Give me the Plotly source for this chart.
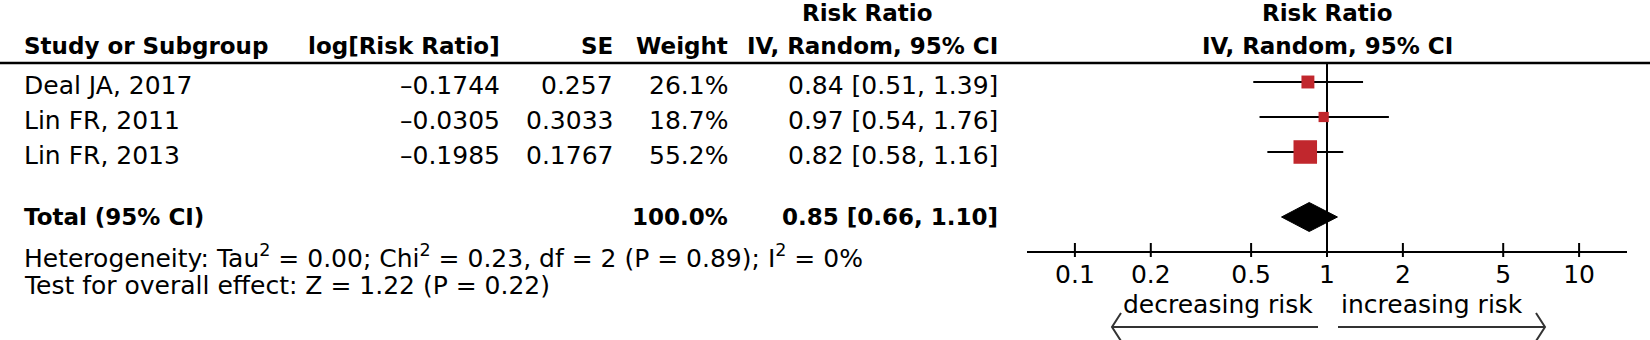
import math
import plotly.graph_objects as go

# ---------------- data ----------------
studies = ["Deal JA, 2017", "Lin FR, 2011", "Lin FR, 2013"]
log_rr = [-0.1744, -0.0305, -0.1985]
se = ["0.257", "0.3033", "0.1767"]
weights = [26.1, 18.7, 55.2]
rr = [0.84, 0.97, 0.82]
ci_low = [0.51, 0.54, 0.58]
ci_high = [1.39, 1.76, 1.16]

total_label = "Total (95% CI)"
total_weight = 100.0
total_rr = 0.85
total_low = 0.66
total_high = 1.10

heterogeneity = ("Heterogeneity: Tau<sup>2</sup> = 0.00; Chi<sup>2</sup> = 0.23, "
                 "df = 2 (P = 0.89); I<sup>2</sup> = 0%")
overall_effect = "Test for overall effect: Z = 1.22 (P = 0.22)"

tick_vals = [0.1, 0.2, 0.5, 1, 2, 5, 10]
tick_text = ["0.1", "0.2", "0.5", "1", "2", "5", "10"]
favours_left = "decreasing risk"
favours_right = "increasing risk"

col_headers = ["Study or Subgroup", "log[Risk Ratio]", "SE", "Weight", "IV, Random, 95% CI"]
effect_title = "Risk Ratio"

# ---------------- layout constants (pixels) ----------------
W, H = 1650, 340
FONT = "DejaVu Sans"
REG = 25
BOLD = 23
X0, X1 = 1027, 1627          # forest axis extent
LOGMIN, LOGMAX = -1.19, 1.19
AXIS_Y = 252
HLINE_Y = 63
mark_y = [82, 117, 152]
text_y = [85.5, 120.5, 155.5]
total_y = 217
RED = "#C1272D"

COL_STUDY = 22
COL_LOG = 502
COL_SE = 615
COL_W = 730
COL_CI = 1000
COL_RR_HEAD = 868


def px(x):
    return x / W


def fmt_neg(v):
    return f"{v:.4f}".replace("-", "\u2013")


fig = go.Figure()

# null line
fig.add_trace(go.Scatter(x=[1, 1], y=[HLINE_Y, AXIS_Y], mode="lines",
                         line=dict(color="black", width=2), hoverinfo="skip"))

# CI lines
xs, ys = [], []
for lo, hi, y in zip(ci_low, ci_high, mark_y):
    xs += [lo, hi, None]
    ys += [y, y, None]
fig.add_trace(go.Scatter(x=xs, y=ys, mode="lines",
                         line=dict(color="black", width=2), hoverinfo="skip"))

# squares (side grows with weight)
fig.add_trace(go.Scatter(x=rr, y=mark_y, mode="markers",
                         marker=dict(symbol="square", color=RED, opacity=1,
                                     size=[3.4 + 0.365 * w for w in weights],
                                     line=dict(width=0)),
                         hoverinfo="skip"))

# diamond
fig.add_trace(go.Scatter(x=[total_low, total_rr, total_high, total_rr, total_low],
                         y=[total_y, total_y - 14.5, total_y, total_y + 14.5, total_y],
                         mode="lines", fill="toself", fillcolor="black",
                         line=dict(color="black", width=1), hoverinfo="skip"))

# crossing tick marks
tx, ty = [], []
for t in tick_vals:
    tx += [t, t, None]
    ty += [AXIS_Y - 9, AXIS_Y + 5, None]
fig.add_trace(go.Scatter(x=tx, y=ty, mode="lines",
                         line=dict(color="black", width=2), hoverinfo="skip"))

ann = []


def add_text(x, y, text, anchor="left", bold=False, xref="paper", xshift=0):
    ann.append(dict(x=x, y=y, xref=xref, yref="y", text=f"<b>{text}</b>" if bold else text,
                    showarrow=False, xanchor=anchor, yanchor="middle", xshift=xshift,
                    font=dict(family=FONT, size=BOLD if bold else REG, color="black")))


# headers
add_text(px(COL_RR_HEAD), 12.5, effect_title, "center", True)
add_text(px(COL_STUDY), 46, col_headers[0], "left", True)
add_text(px(COL_LOG), 46, col_headers[1], "right", True)
add_text(px(COL_SE), 46, col_headers[2], "right", True)
add_text(px(COL_W), 46, col_headers[3], "right", True)
add_text(px(COL_CI), 46, col_headers[4], "right", True)
add_text(0, 12.5, effect_title, "center", True, xref="x")
add_text(0, 46, col_headers[4], "center", True, xref="x")

# study rows
for i, y in enumerate(text_y):
    add_text(px(COL_STUDY), y, studies[i], "left")
    add_text(px(COL_LOG), y, fmt_neg(log_rr[i]), "right")
    add_text(px(COL_SE), y, se[i], "right")
    add_text(px(COL_W), y, f"{weights[i]:.1f}%", "right")
    add_text(px(COL_CI), y, f"{rr[i]:.2f} [{ci_low[i]:.2f}, {ci_high[i]:.2f}]", "right")

# total
add_text(px(COL_STUDY), 216.5, total_label, "left", True)
add_text(px(COL_W), 216.5, f"{total_weight:.1f}%", "right", True)
add_text(px(COL_CI), 216.5, f"{total_rr:.2f} [{total_low:.2f}, {total_high:.2f}]", "right", True)
add_text(px(COL_STUDY), 256, heterogeneity, "left")
add_text(px(COL_STUDY), 285, overall_effect, "left")

# favours labels
add_text(0, 304, favours_left, "right", xref="x", xshift=-12)
add_text(0, 304, favours_right, "left", xref="x", xshift=12)

shapes = [
    dict(type="line", xref="paper", yref="y", x0=0, x1=1, y0=HLINE_Y, y1=HLINE_Y,
         line=dict(color="black", width=2.5)),
]
ARROW_Y = 327
AC = "#333333"
# left arrow
lt, lb = 1112, 1318
shapes.append(dict(type="line", xref="paper", yref="y", x0=px(lt), x1=px(lb), y0=ARROW_Y, y1=ARROW_Y,
                   line=dict(color=AC, width=2)))
shapes.append(dict(type="path", xref="paper", yref="y",
                   path=f"M {px(lt + 9)},{ARROW_Y - 14} L {px(lt)},{ARROW_Y} L {px(lt + 9)},{ARROW_Y + 14}",
                   line=dict(color=AC, width=2)))
# right arrow
rt, rb = 1545, 1338
shapes.append(dict(type="line", xref="paper", yref="y", x0=px(rb), x1=px(rt), y0=ARROW_Y, y1=ARROW_Y,
                   line=dict(color=AC, width=2)))
shapes.append(dict(type="path", xref="paper", yref="y",
                   path=f"M {px(rt - 9)},{ARROW_Y - 14} L {px(rt)},{ARROW_Y} L {px(rt - 9)},{ARROW_Y + 14}",
                   line=dict(color=AC, width=2)))

fig.update_layout(
    width=W, height=H,
    margin=dict(l=0, r=0, t=0, b=0),
    paper_bgcolor="white", plot_bgcolor="white",
    showlegend=False,
    xaxis=dict(type="log", range=[LOGMIN, LOGMAX], domain=[px(X0), px(X1)],
               anchor="free", position=1 - AXIS_Y / H,
               showline=True, linecolor="black", linewidth=2,
               ticks="", tickvals=tick_vals, ticktext=tick_text,
               tickfont=dict(family=FONT, size=REG, color="black"),
               ticklabelstandoff=0,
               showgrid=False, zeroline=False, fixedrange=True),
    yaxis=dict(range=[H, 0], domain=[0, 1], visible=False, fixedrange=True),
    annotations=ann,
    shapes=shapes,
)

fig.write_html("out.html",
               config={"displayModeBar": False, "staticPlot": True},
               post_script="document.body.style.margin='0';document.body.style.overflow='hidden';")
